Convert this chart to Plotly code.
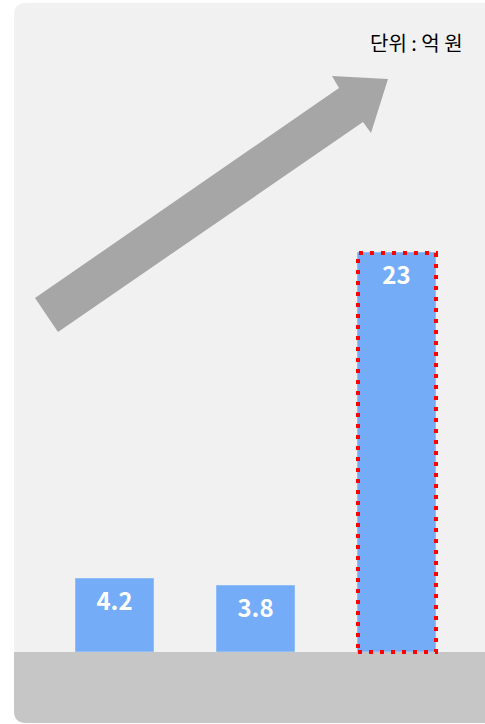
import plotly.graph_objects as go

categories = ["A", "B", "C"]
values = [4.2, 3.8, 23]
labels = ["4.2", "3.8", "23"]
unit_text = "단위 : 억 원"

W, H = 485, 724

def px(x):
    return x / W

def py(y):
    return 1 - y / H

def path_px(points):
    s = ""
    for i, (x, y) in enumerate(points):
        s += ("M" if i == 0 else "L") + f"{px(x):.5f},{py(y):.5f} "
    return s + "Z"

xpos = [0, 1, 2]
bar_w = 0.553

fig = go.Figure()
fig.add_trace(go.Bar(
    x=xpos, y=values, width=bar_w,
    marker=dict(color="#74acf7", line=dict(color="#8fbdf8", width=1)),
    text=labels, textposition="inside", insidetextanchor="end",
    textangle=0,
    textfont=dict(family="Noto Sans CJK KR", size=24, color="white", weight="bold"),
    cliponaxis=False, hoverinfo="skip",
))

r = 12
panel = (f"M{px(14):.5f},{py(3+r):.5f} Q{px(14):.5f},{py(3):.5f} {px(14+r):.5f},{py(3):.5f} "
         f"L{px(490):.5f},{py(3):.5f} L{px(490):.5f},{py(723):.5f} "
         f"L{px(14+r):.5f},{py(723):.5f} Q{px(14):.5f},{py(723):.5f} {px(14):.5f},{py(723-r):.5f} Z")
band = (f"M{px(14):.5f},{py(652):.5f} L{px(490):.5f},{py(652):.5f} L{px(490):.5f},{py(723):.5f} "
        f"L{px(14+r):.5f},{py(723):.5f} Q{px(14):.5f},{py(723):.5f} {px(14):.5f},{py(723-r):.5f} Z")
arrow = path_px([(35, 298), (339, 88), (332, 76), (388, 79), (371, 133), (363, 122), (58, 332)])

shapes = [
    dict(type="path", xref="paper", yref="paper", path=panel, fillcolor="#f1f1f1",
         line=dict(width=0), layer="below"),
    dict(type="path", xref="paper", yref="paper", path=band, fillcolor="#c6c6c6",
         line=dict(width=0), layer="below"),
    dict(type="path", xref="paper", yref="paper", path=arrow, fillcolor="#a6a6a6",
         line=dict(width=0), layer="below"),
    dict(type="rect", xref="x", yref="y", x0=xpos[2] - bar_w / 2, x1=xpos[2] + bar_w / 2,
         y0=0, y1=values[2], line=dict(color="#ff0000", width=4, dash="4px,7px"),
         fillcolor="rgba(0,0,0,0)", layer="above"),
]

fig.update_layout(
    width=W, height=H, margin=dict(l=0, r=0, t=0, b=0),
    paper_bgcolor="white", plot_bgcolor="rgba(0,0,0,0)",
    showlegend=False, shapes=shapes,
    xaxis=dict(range=[-115 / 141, (485 - 115) / 141], visible=False, fixedrange=True),
    yaxis=dict(range=[-72 / (399 / 23), 652 / (399 / 23)], visible=False, fixedrange=True),
    annotations=[dict(text=unit_text, xref="paper", yref="paper", x=px(465), y=py(42),
                      xanchor="right", yanchor="middle", showarrow=False,
                      font=dict(family="Noto Sans CJK KR", size=20, color="black"))],
    bargap=0,
)

fig.write_html("out.html", config={"displayModeBar": False},
               post_script="document.body.style.margin='0';document.body.style.overflow='hidden';")
